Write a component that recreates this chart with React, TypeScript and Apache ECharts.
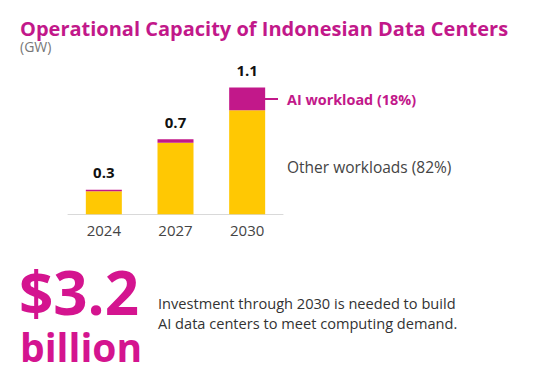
import React, { useEffect, useRef } from "react";
import * as echarts from "echarts";

const categories = ["2024", "2027", "2030"];
const otherValues = [0.2, 0.62, 0.9];
const aiValues = [0.012, 0.03, 0.197];
const totalLabels = ["0.3", "0.7", "1.1"];

const MAGENTA = "#C2188A";
const YELLOW = "#FFC803";
const BIG = "#D4148F";
const FONT = "'Open Sans', sans-serif";

export default function App() {
  const ref = useRef<HTMLDivElement>(null);
  useEffect(() => {
    if (!ref.current) return;
    const chart = echarts.init(ref.current, null, { renderer: "svg" });
    chart.setOption({
      animation: false,
      backgroundColor: "#ffffff",
      title: [
        {
          text: "Operational Capacity of Indonesian Data Centers",
          left: 20,
          top: 17,
          padding: 0,
          textStyle: { color: MAGENTA, fontSize: 20, lineHeight: 22, fontWeight: "bold", fontFamily: FONT },
        },
        {
          text: "(GW)",
          left: 20,
          top: 39,
          padding: 0,
          textStyle: { color: "#777", fontSize: 14, lineHeight: 14, fontWeight: "normal", fontFamily: FONT },
        },
      ],
      grid: { left: 68, width: 215, top: 75.7, height: 138.6 },
      xAxis: {
        type: "category",
        data: categories,
        axisLine: { lineStyle: { color: "#d9d9d9", width: 1 } },
        axisTick: { show: false },
        axisLabel: { color: "#444", fontSize: 15, fontFamily: FONT, margin: 8 },
      },
      yAxis: { type: "value", min: 0, max: 1.2, show: false, splitLine: { show: false } },
      series: [
        {
          type: "bar",
          stack: "t",
          data: otherValues,
          barWidth: 36,
          itemStyle: { color: YELLOW },
        },
        {
          type: "bar",
          stack: "t",
          data: aiValues,
          barWidth: 36,
          itemStyle: { color: MAGENTA },
          label: {
            show: true,
            position: "top",
            distance: 10,
            formatter: (p: any) => totalLabels[p.dataIndex],
            color: "#111",
            fontSize: 15,
            fontWeight: "bold",
            fontFamily: FONT,
          },
        },
      ],
      graphic: [
        {
          type: "line",
          shape: { x1: 265, y1: 99, x2: 278, y2: 99 },
          style: { stroke: MAGENTA, lineWidth: 2 },
        },
        {
          type: "text",
          x: 287,
          y: 99,
          style: {
            text: "AI workload (18%)",
            fill: MAGENTA,
            fontSize: 14.4,
            fontWeight: "bold",
            fontFamily: FONT,
            verticalAlign: "middle",
          },
        },
        {
          type: "text",
          x: 287,
          y: 167,
          style: {
            text: "Other workloads (82%)",
            fill: "#444",
            fontSize: 15.5,
            fontWeight: "normal",
            fontFamily: FONT,
            verticalAlign: "middle",
          },
        },
        {
          type: "text",
          x: 19,
          y: 292,
          style: {
            text: "$3.2",
            fill: BIG,
            fontSize: 60,
            lineHeight: 48,
            fontWeight: "bold",
            fontFamily: FONT,
            verticalAlign: "middle",
          },
        },
        {
          type: "text",
          x: 20,
          y: 346,
          style: {
            text: "billion",
            fill: BIG,
            fontSize: 39,
            lineHeight: 36,
            fontWeight: "bold",
            fontFamily: FONT,
            verticalAlign: "middle",
          },
        },
        {
          type: "text",
          x: 158,
          y: 313,
          style: {
            text: "Investment through 2030 is needed to build\nAI data centers to meet computing demand.",
            fill: "#333",
            fontSize: 14.6,
            lineHeight: 20,
            fontFamily: FONT,
            verticalAlign: "middle",
          },
        },
      ],
    });
    return () => chart.dispose();
  }, []);
  return (
    <div
      ref={ref}
      style={{ position: "fixed", left: 0, top: 0, width: 556, height: 378 }}
    />
  );
}
